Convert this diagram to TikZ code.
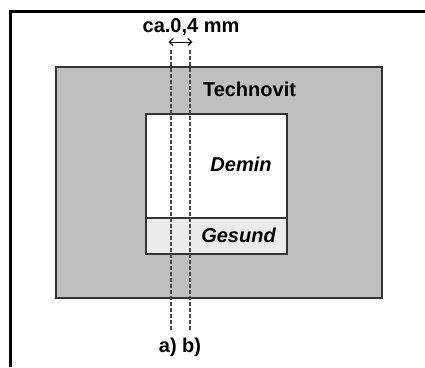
\documentclass[tikz,border=0pt]{standalone}
\usepackage{fontspec}
\setmainfont{Liberation Sans}
\usetikzlibrary{arrows.meta}
\definecolor{embed}{HTML}{BFBFBF}
\definecolor{healthy}{HTML}{EBEBEB}
\definecolor{edge}{HTML}{333333}
\tikzset{
  lbl/.style={font=\fontsize{20}{21}\selectfont\bfseries, inner sep=0pt, anchor=base},
  ilbl/.style={lbl, font=\fontsize{20}{21}\selectfont\bfseries\itshape},
  region/.style={draw=edge, line width=1.8pt},
  cutline/.style={draw=black!72, line width=1.2pt, dash pattern=on 4pt off 2pt}
}
\begin{document}
\begin{tikzpicture}[x=1pt,y=-1pt]
\useasboundingbox (0,0) rectangle (425,367);
% outer frame (top and left only visible)
\draw[line width=2.5pt] (425,11.5) -- (10.5,11.5) -- (10.5,367);
% embedding
\draw[region, fill=embed] (56,67) rectangle (382,298);
% specimen
\draw[region, fill=white] (146,114) rectangle (287,218);
\draw[region, fill=healthy] (146,218) rectangle (287,254);
% labels
\node[lbl] (tech) at (249.5,96) {Technovit};
\node[ilbl] (demin) at (241,171) {Demin};
\node[ilbl] (ges) at (238.5,242) {Gesund};
\node[lbl] (dim) at (191,32) {ca.0,4 mm};
\node[lbl] (lab) at (180,352) {a) b)};
% cut lines
\coordinate (a1) at (171,50);
\coordinate (a2) at (171,331);
\coordinate (b1) at (190,50);
\coordinate (b2) at (190,331);
\draw[cutline] (a1) -- (a2);
\draw[cutline] (b1) -- (b2);
\coordinate (ar1) at (168.5,42);
\coordinate (ar2) at (192.5,42);
\draw[line width=1pt, {Straight Barb[length=4pt,width=7pt]}-{Straight Barb[length=4pt,width=7pt]}] (ar1) -- (ar2);
\end{tikzpicture}
\end{document}
